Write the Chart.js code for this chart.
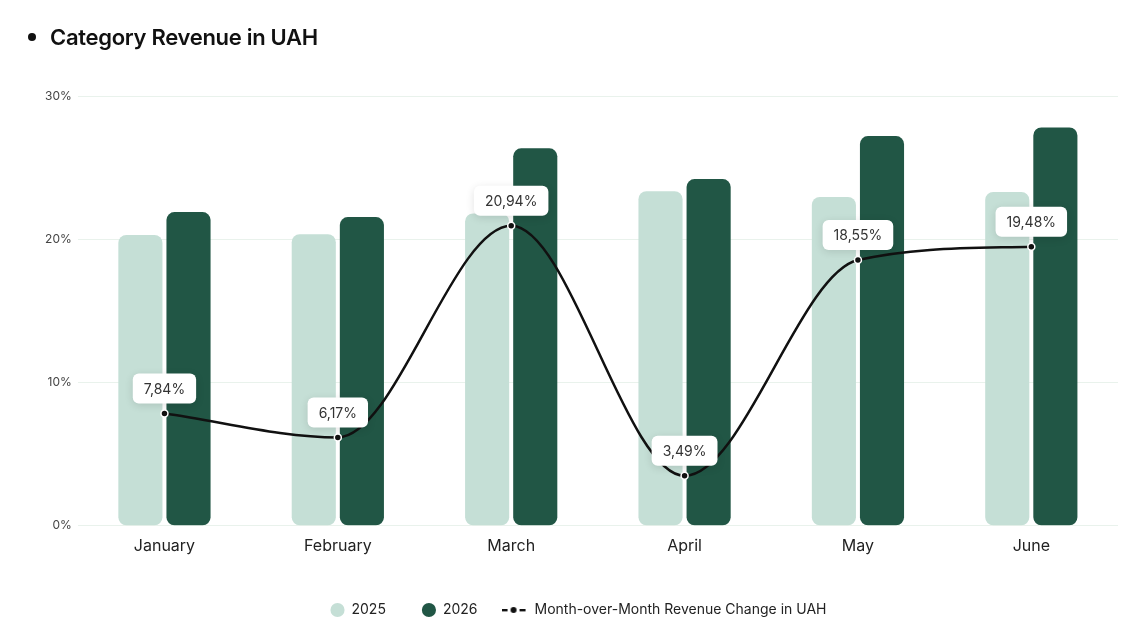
<!DOCTYPE html>
<html>
<head>
<meta charset="utf-8">
<script src="https://cdn.jsdelivr.net/npm/chart.js@4.4.1/dist/chart.umd.min.js"></script>
<style>
  html, body { margin: 0; padding: 0; background: #ffffff; }
  #wrap { position: relative; width: 1148px; height: 623px; }
  #title { position: absolute; left: 28px; top: 24px; font-family: Inter, "Noto Sans", sans-serif; font-size: 22px; font-weight: 600; color: #111; letter-spacing: -0.3px; }
  #title span.dot { display: inline-block; width: 8px; height: 8px; border-radius: 50%; background: #111; margin-right: 14px; vertical-align: middle; position: relative; top: -2px; }
  #c { position: absolute; left: 0; top: 0; }
</style>
</head>
<body>
<div id="wrap">
  <canvas id="c" width="1148" height="623"></canvas>
  <div id="title"><span class="dot"></span>Category Revenue in UAH</div>
</div>
<script>
const months = ["January", "February", "March", "April", "May", "June"];
const revenue2025 = [20.3, 20.35, 21.8, 23.35, 22.95, 23.3];
const revenue2026 = [21.9, 21.55, 26.35, 24.2, 27.2, 27.8];
const momChange = [7.84, 6.17, 20.94, 3.49, 18.55, 19.48];
const yTicks = [0, 10, 20, 30];

const lightGreen = "#c5dfd6";
const darkGreen = "#215645";
const lineColor = "#111111";
const fontFamily = "Inter, 'Noto Sans', sans-serif";

function fmtPct(v) { return v.toFixed(2).replace(".", ",") + "%"; }

// legend icon for line series (icon in left 24px of a 38px canvas)
const lineIcon = (() => {
  const cv = document.createElement("canvas");
  cv.width = 38; cv.height = 8;
  const x = cv.getContext("2d");
  x.fillStyle = lineColor;
  x.fillRect(0, 3, 6, 2.4);
  x.fillRect(18, 3, 6, 2.4);
  x.beginPath(); x.arc(12, 4, 3, 0, Math.PI * 2); x.fill();
  return cv;
})();

const labelPlugin = {
  id: "pointLabels",
  afterDatasetsDraw(chart) {
    const ctx = chart.ctx;
    const meta = chart.getDatasetMeta(2);
    ctx.save();
    ctx.font = "14px " + fontFamily;
    meta.data.forEach((pt, i) => {
      const txt = fmtPct(momChange[i]);
      const w = ctx.measureText(txt).width + 22;
      const h = 30;
      const bx = pt.x - w / 2;
      const by = pt.y - 10 - h;
      ctx.save();
      ctx.shadowColor = "rgba(0,0,0,0.12)";
      ctx.shadowBlur = 8;
      ctx.shadowOffsetY = 2;
      ctx.fillStyle = "#ffffff";
      ctx.beginPath();
      ctx.roundRect(bx, by, w, h, 6);
      ctx.fill();
      ctx.restore();
      ctx.fillStyle = "#333333";
      ctx.textAlign = "center";
      ctx.textBaseline = "middle";
      ctx.fillText(txt, pt.x, by + h / 2 + 1);
    });
    ctx.restore();
  }
};

const legendShift = {
  id: "legendShift",
  beforeInit(chart) {
    const orig = chart.legend.fit;
    chart.legend.fit = function () {
      orig.call(this);
      this.height -= 4;
    };
  }
};

new Chart(document.getElementById("c"), {
  type: "bar",
  data: {
    labels: months,
    datasets: [
      {
        label: "2025",
        data: revenue2025,
        backgroundColor: lightGreen,
        borderRadius: 8,
        borderSkipped: false,
        categoryPercentage: 0.555,
        barPercentage: 0.917,
        order: 2
      },
      {
        label: "2026",
        data: revenue2026,
        backgroundColor: darkGreen,
        borderRadius: 8,
        borderSkipped: false,
        categoryPercentage: 0.555,
        barPercentage: 0.917,
        order: 2
      },
      {
        type: "line",
        label: "Month-over-Month Revenue Change in UAH",
        data: momChange,
        borderColor: lineColor,
        backgroundColor: lineColor,
        borderWidth: 2.5,
        cubicInterpolationMode: "monotone",
        pointStyle: "circle",
        pointRadius: 3.5,
        pointBackgroundColor: lineColor,
        pointBorderColor: "#ffffff",
        pointBorderWidth: 1.5,
        order: 1
      }
    ]
  },
  options: {
    responsive: false,
    animation: false,
    layout: { padding: { top: 96, left: 39, right: 30, bottom: 0 } },
    plugins: {
      tooltip: { enabled: false },
      legend: {
        position: "bottom",
        labels: {
          usePointStyle: true,
          boxWidth: 14,
          boxHeight: 10,
          padding: 36,
          color: "#222222",
          font: { family: fontFamily, size: 14 },
          generateLabels(chart) {
            return chart.data.datasets.map((ds, i) => ({
              text: ds.label,
              datasetIndex: i,
              fillStyle: i === 2 ? lineColor : ds.backgroundColor,
              strokeStyle: i === 2 ? lineColor : ds.backgroundColor,
              lineWidth: 0,
              pointStyle: i === 2 ? lineIcon : "circle",
              fontColor: "#222222",
              hidden: !chart.isDatasetVisible(i)
            }));
          }
        }
      }
    },
    scales: {
      x: {
        grid: { display: false },
        border: { display: false },
        afterFit(axis) { axis.height += 8; },
        ticks: { color: "#222222", font: { family: fontFamily, size: 16 }, padding: 3 }
      },
      y: {
        min: 0,
        max: 30,
        afterBuildTicks(axis) { axis.ticks = yTicks.map(v => ({ value: v })); },
        grid: { color: "#e9f2ec", lineWidth: 1, drawTicks: false },
        border: { display: false },
        ticks: {
          color: "#444444",
          font: { family: fontFamily, size: 12 },
          padding: 6,
          callback: v => v + "%"
        }
      }
    }
  },
  plugins: [labelPlugin, legendShift]
});
</script>
</body>
</html>
